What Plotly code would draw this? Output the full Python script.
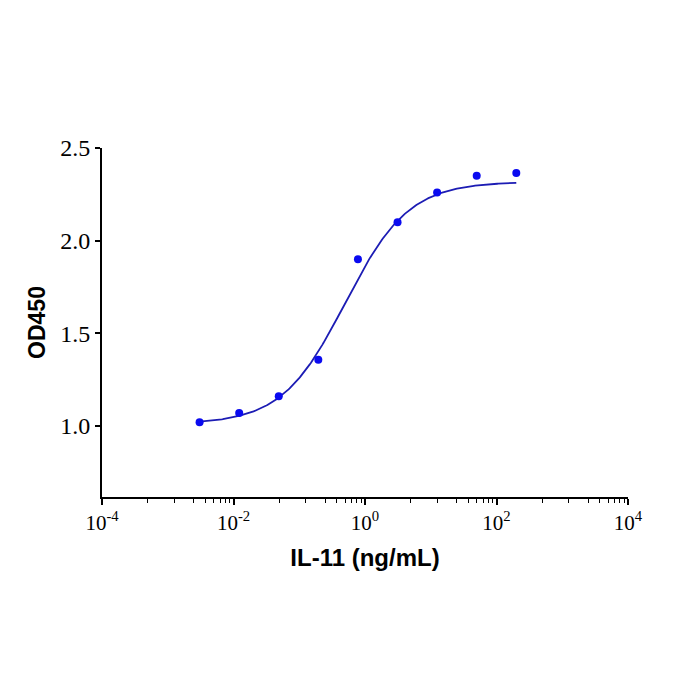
import numpy as np
import plotly.graph_objects as go

# Data (IL-11 concentration in ng/mL, OD450)
conc = [0.00305, 0.0122, 0.0488, 0.195, 0.781, 3.125, 12.5, 50, 200]
od450 = [1.02, 1.07, 1.16, 1.357, 1.90, 2.10, 2.26, 2.35, 2.365]

# 4-parameter logistic fit parameters
fit_bottom = 1.01
fit_top = 2.318
fit_ec50 = 0.5
fit_hill = 0.9

x_tickvals = [1e-4, 1e-2, 1e0, 1e2, 1e4]
x_ticktext = ["10<sup>-4</sup>", "10<sup>-2</sup>", "10<sup>0</sup>", "10<sup>2</sup>", "10<sup>4</sup>"]
minor_mult = [5, 12.5, 25, 37.5, 50, 62.5, 75, 87.5]
y_tickvals = [1.0, 1.5, 2.0, 2.5]
y_ticktext = ["1.0", "1.5", "2.0", "2.5"]

minor_vals = [m * d for d in [1e-4, 1e-2, 1e0, 1e2] for m in minor_mult]

xc = np.logspace(np.log10(conc[0]), np.log10(conc[-1]), 300)
yc = fit_bottom + (fit_top - fit_bottom) / (1 + (fit_ec50 / xc) ** fit_hill)

fig = go.Figure()
fig.add_trace(go.Scatter(x=xc, y=yc, mode="lines",
                         line=dict(color="#1c1cb4", width=1.8),
                         hoverinfo="skip", showlegend=False))
fig.add_trace(go.Scatter(x=conc, y=od450, mode="markers",
                         marker=dict(color="#0a0af0", size=8),
                         showlegend=False))

fig.update_layout(
    width=700, height=700,
    margin=dict(l=102, r=72, t=148, b=203),
    paper_bgcolor="white", plot_bgcolor="white",
    xaxis=dict(
        type="log", range=[-4, 4],
        tickvals=x_tickvals, ticktext=x_ticktext,
        ticks="outside", ticklen=6, tickwidth=1.5, tickcolor="black",
        showline=True, linecolor="black", linewidth=1.8,
        showgrid=False, zeroline=False,
        tickfont=dict(family="Liberation Serif", size=21, color="black"),
        minor=dict(tickvals=minor_vals, ticks="outside", ticklen=4,
                   tickwidth=1.2, tickcolor="black", showgrid=False),
        title=dict(text="<b>IL-11 (ng/mL)</b>", standoff=15,
                   font=dict(family="Liberation Sans", size=24, color="black")),
    ),
    yaxis=dict(
        range=[0.617, 2.5],
        tickvals=y_tickvals, ticktext=y_ticktext,
        ticks="outside", ticklen=5, tickwidth=1.5, tickcolor="black",
        showline=True, linecolor="black", linewidth=1.8,
        showgrid=False, zeroline=False,
        tickfont=dict(family="Liberation Serif", size=24, color="black"),
        title=dict(text="<b>OD450</b>", standoff=8,
                   font=dict(family="Liberation Sans", size=23, color="black")),
    ),
)

fig.write_html("out.html")
